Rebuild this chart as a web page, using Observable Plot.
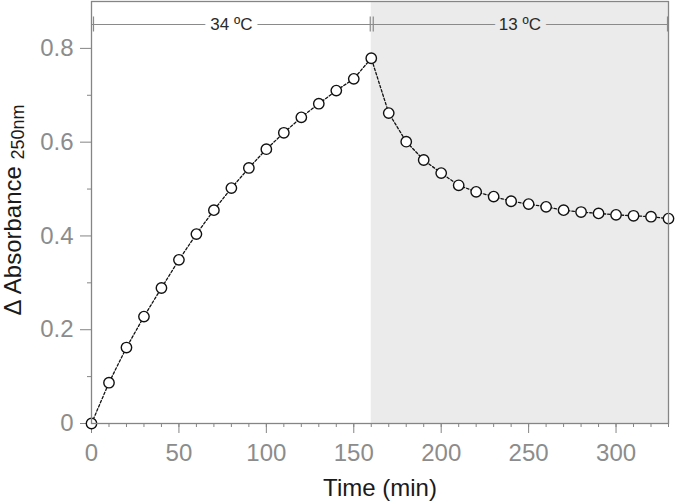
<!DOCTYPE html>
<html>
<head>
<meta charset="utf-8">
<script src="https://cdn.jsdelivr.net/npm/d3@7"></script>
<script src="https://cdn.jsdelivr.net/npm/@observablehq/plot@0.6"></script>
<style>
  html, body { margin: 0; padding: 0; background: #fff; }
  #chart svg { display: block; }
</style>
</head>
<body>
<div id="chart"></div>
<script>
// ---- data ----
const times = [0,10,20,30,40,50,60,70,80,90,100,110,120,130,140,150,160,
               170,180,190,200,210,220,230,240,250,260,270,280,290,300,310,320,330];
const absorbance = [0,0.087,0.162,0.228,0.289,0.349,0.404,0.455,0.502,0.545,0.585,0.620,0.653,0.682,0.710,0.735,0.779,
                    0.662,0.601,0.562,0.534,0.508,0.494,0.484,0.474,0.468,0.462,0.455,0.451,0.448,0.445,0.443,0.441,0.437];
const phaseLabels = ["34 ºC", "13 ºC"];
const phaseStart = [0, 160];
const phaseEnd = [160, 330];
const xTicks = [0, 50, 100, 150, 200, 250, 300];
const yTicks = [0, 0.2, 0.4, 0.6, 0.8];
const yTickLabels = ["0", "0.2", "0.4", "0.6", "0.8"];

const points = times.map((t, i) => ({t, a: absorbance[i]}));
const phases = phaseLabels.map((label, i) => ({label, start: phaseStart[i], end: phaseEnd[i], shaded: i === 1}));

const gray = "#858585";
const font = "'Liberation Sans', Arial, sans-serif";
const bracketY = 0.851;
const capHalf = 0.016;

const chart = Plot.plot({
  width: 675,
  height: 503,
  marginLeft: 91,
  marginRight: 7,
  marginTop: 1,
  marginBottom: 80,
  style: {fontFamily: font, fontSize: "24px", background: "white"},
  x: {domain: [0, 330]},
  y: {domain: [0, 0.9]},
  marks: [
    // shaded region (13 ºC)
    Plot.rect(phases.filter(d => d.shaded), {x1: "start", x2: "end", y1: 0, y2: 0.9, fill: "#ebebeb"}),
    // minor ticks
    Plot.axisX(d3.range(0, 331, 10), {tickSize: 4, tickFormat: () => "", stroke: gray, label: null}),
    Plot.axisY(d3.range(0.1, 0.9, 0.2), {tickSize: 4, tickFormat: () => "", stroke: gray, label: null}),
    // major ticks
    Plot.axisX(xTicks, {tickSize: 10, tickPadding: 10, stroke: gray, fill: "#8c8c8c", fontSize: 24, label: null}),
    Plot.axisY(yTicks, {tickSize: 11, tickPadding: 7, stroke: gray, fill: "#8c8c8c", fontSize: 24, label: null,
      tickFormat: (d, i) => yTickLabels[i]}),
    // data
    Plot.line(points, {x: "t", y: "a", stroke: "#111", strokeWidth: 1.3, strokeDasharray: "2.5,2"}),
    Plot.dot(points, {x: "t", y: "a", r: 5.2, fill: "white", stroke: "#111", strokeWidth: 1.4}),
    // bracket annotation
    Plot.ruleY(phases, {x1: "start", x2: "end", y: bracketY, stroke: "#8a8a8a", strokeWidth: 1.2}),
    Plot.ruleX(phases, {x: "start", y1: bracketY - capHalf, y2: bracketY + capHalf, dx: 2, stroke: "#8a8a8a", strokeWidth: 1.2}),
    Plot.ruleX(phases, {x: "end", y1: bracketY - capHalf, y2: bracketY + capHalf, dx: -1, stroke: "#8a8a8a", strokeWidth: 1.2}),
    Plot.text(phases, {x: d => (d.start + d.end) / 2, y: bracketY, text: "label", fill: "#2a2a2a",
      stroke: d => d.shaded ? "#ebebeb" : "white", strokeWidth: 12, fontSize: 17}),
    // frame
    Plot.frame({stroke: gray, strokeWidth: 1.3})
  ]
});

const svg = d3.select(chart);
// y-axis label with subscript
const yl = svg.append("text")
  .attr("transform", "translate(21,210) rotate(-90)")
  .attr("text-anchor", "middle")
  .attr("fill", "#1a1a1a")
  .style("font-family", font)
  .style("font-size", "24px");
yl.append("tspan").text("Δ Absorbance ");
yl.append("tspan").attr("font-size", "18px").attr("dy", "3").text("250nm");
// x-axis label
svg.append("text")
  .attr("x", 380)
  .attr("y", 496)
  .attr("text-anchor", "middle")
  .attr("fill", "#1a1a1a")
  .style("font-family", font)
  .style("font-size", "24px")
  .text("Time (min)");

document.getElementById("chart").appendChild(chart);
</script>
</body>
</html>
